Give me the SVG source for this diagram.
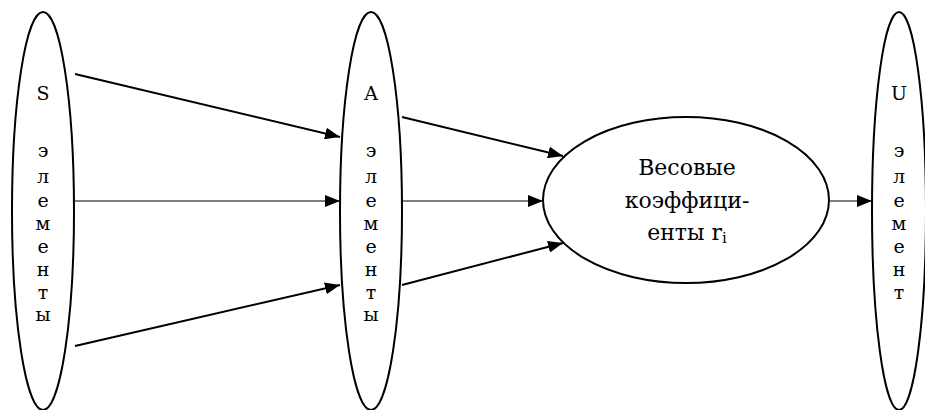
<svg xmlns="http://www.w3.org/2000/svg" width="925" height="410" viewBox="0 0 925 410">
<style>
.n{fill:#fff;stroke:#000;stroke-width:2}
.t{font-family:"DejaVu Serif","Liberation Serif",serif;font-size:19px;text-anchor:middle;fill:#000}
.w{font-family:"DejaVu Serif","Liberation Serif",serif;font-size:22px;text-anchor:middle;fill:#000}
.c{stroke:#000;fill:none}
.thick{stroke-width:2}
.thin{stroke-width:1}
</style>
<defs>
<marker id="ah" markerWidth="15" markerHeight="12" refX="15" refY="6" orient="auto" markerUnits="userSpaceOnUse">
<path d="M0,0 L15,6 L0,12 Z" fill="#000"/>
</marker>
</defs>
<rect width="925" height="410" fill="#fff"/>
<g id="S">
<ellipse class="n" cx="43" cy="211" rx="31" ry="199"/>
<text class="t" x="43" y="100">S</text>
<text class="t" x="43" y="157">э</text>
<text class="t" x="43" y="183">л</text>
<text class="t" x="43" y="207">е</text>
<text class="t" x="43" y="230">м</text>
<text class="t" x="43" y="253">е</text>
<text class="t" x="43" y="276">н</text>
<text class="t" x="43" y="299">т</text>
<text class="t" x="43" y="321">ы</text>
</g>
<g id="A">
<ellipse class="n" cx="371" cy="211" rx="31" ry="199"/>
<text class="t" x="371" y="100">A</text>
<text class="t" x="371" y="157">э</text>
<text class="t" x="371" y="183">л</text>
<text class="t" x="371" y="207">е</text>
<text class="t" x="371" y="230">м</text>
<text class="t" x="371" y="253">е</text>
<text class="t" x="371" y="276">н</text>
<text class="t" x="371" y="299">т</text>
<text class="t" x="371" y="321">ы</text>
</g>
<g id="W">
<ellipse class="n" cx="686" cy="200" rx="143" ry="83"/>
<text class="w" x="687" y="175">Весовые</text>
<text class="w" x="687" y="208">коэффици-</text>
<text class="w" x="687" y="240">енты r<tspan font-size="15" dy="3">i</tspan></text>
</g>
<g id="U">
<ellipse class="n" cx="899" cy="211" rx="27" ry="199"/>
<text class="t" x="899" y="100">U</text>
<text class="t" x="899" y="157">э</text>
<text class="t" x="899" y="183">л</text>
<text class="t" x="899" y="207">е</text>
<text class="t" x="899" y="230">м</text>
<text class="t" x="899" y="253">е</text>
<text class="t" x="899" y="276">н</text>
<text class="t" x="899" y="299">т</text>
</g>
<g id="connectors">
<line class="c thick" x1="75" y1="74" x2="340" y2="137" marker-end="url(#ah)"/>
<line class="c thin" x1="75" y1="201" x2="340" y2="201" marker-end="url(#ah)"/>
<line class="c thick" x1="75" y1="346" x2="340" y2="285" marker-end="url(#ah)"/>
<line class="c thick" x1="402" y1="117" x2="563" y2="156" marker-end="url(#ah)"/>
<line class="c thin" x1="402" y1="201" x2="543" y2="201" marker-end="url(#ah)"/>
<line class="c thick" x1="402" y1="285" x2="563" y2="243" marker-end="url(#ah)"/>
<line class="c thin" x1="830" y1="201" x2="872" y2="201" marker-end="url(#ah)"/>
</g>
</svg>
